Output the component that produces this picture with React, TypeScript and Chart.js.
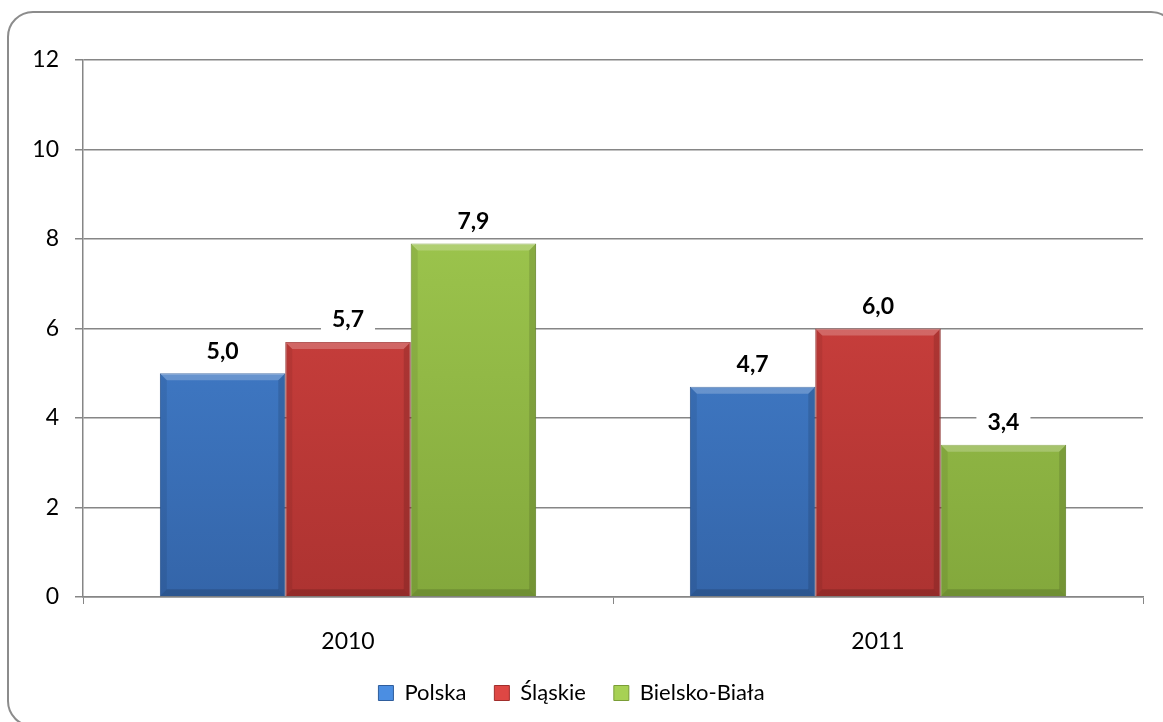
import React, { useEffect, useRef } from "react";
import { Chart, registerables } from "chart.js";

Chart.register(...registerables);

const categories = ["2010", "2011"];
const seriesNames = ["Polska", "Śląskie", "Bielsko-Biała"];
const polska = [5.0, 4.7];
const slaskie = [5.7, 6.0];
const bielsko = [7.9, 3.4];
const yTicks = [0, 2, 4, 6, 8, 10, 12];

const topColors = ["#4b8ee2", "#de4744", "#a7d154"];
const bottomColors = ["#3465a9", "#ad3331", "#83a83c"];
const borderColors = ["#2f5d9c", "#a02e2c", "#7a9d37"];
const FONT = "Lato, 'Open Sans', sans-serif";

const bevelPlugin = {
  id: "bevel",
  afterDatasetsDraw(chart: any) {
    const ctx = chart.ctx;
    ctx.save();
    chart.data.datasets.forEach((_ds: any, di: number) => {
      const meta = chart.getDatasetMeta(di);
      meta.data.forEach((bar: any) => {
        const left = bar.x - bar.width / 2;
        const right = bar.x + bar.width / 2;
        const top = bar.y;
        const bottom = bar.base;
        const b = 7;
        // top highlight
        ctx.fillStyle = "rgba(255,255,255,0.22)";
        ctx.beginPath();
        ctx.moveTo(left, top);
        ctx.lineTo(right, top);
        ctx.lineTo(right - b, top + b);
        ctx.lineTo(left + b, top + b);
        ctx.closePath();
        ctx.fill();
        // side shades
        ctx.fillStyle = "rgba(0,0,0,0.07)";
        ctx.beginPath();
        ctx.moveTo(left, top);
        ctx.lineTo(left + b, top + b);
        ctx.lineTo(left + b, bottom - b);
        ctx.lineTo(left, bottom);
        ctx.closePath();
        ctx.fill();
        ctx.fillStyle = "rgba(0,0,0,0.12)";
        ctx.beginPath();
        ctx.moveTo(right, top);
        ctx.lineTo(right - b, top + b);
        ctx.lineTo(right - b, bottom - b);
        ctx.lineTo(right, bottom);
        ctx.closePath();
        ctx.fill();
        ctx.fillStyle = "rgba(0,0,0,0.15)";
        ctx.beginPath();
        ctx.moveTo(left, bottom);
        ctx.lineTo(right, bottom);
        ctx.lineTo(right - b, bottom - b);
        ctx.lineTo(left + b, bottom - b);
        ctx.closePath();
        ctx.fill();
      });
    });
    ctx.restore();
  },
};

const labelPlugin = {
  id: "valueLabels",
  afterDatasetsDraw(chart: any) {
    const ctx = chart.ctx;
    ctx.save();
    ctx.font = `bold 23px ${FONT}`;
    ctx.textAlign = "center";
    ctx.textBaseline = "middle";
    chart.data.datasets.forEach((ds: any, di: number) => {
      const meta = chart.getDatasetMeta(di);
      meta.data.forEach((bar: any, i: number) => {
        const txt = Number(ds.data[i]).toFixed(1).replace(".", ",");
        const y = bar.y - 22;
        const w = ctx.measureText(txt).width + 22;
        ctx.fillStyle = "#ffffff";
        ctx.fillRect(bar.x - w / 2, y - 13, w, 26);
        ctx.fillStyle = "#000000";
        ctx.fillText(txt, bar.x, y);
      });
    });
    ctx.restore();
  },
};

function makeGradient(ctx: any, area: any, i: number) {
  if (!area) return topColors[i];
  const g = ctx.createLinearGradient(0, area.top, 0, area.bottom);
  g.addColorStop(0, topColors[i]);
  g.addColorStop(1, bottomColors[i]);
  return g;
}

export default function App() {
  const ref = useRef<HTMLCanvasElement | null>(null);
  useEffect(() => {
    if (!ref.current) return;
    const values = [polska, slaskie, bielsko];
    const chart = new Chart(ref.current, {
      type: "bar",
      data: {
        labels: categories,
        datasets: seriesNames.map((name, i) => ({
          label: name,
          data: values[i],
          backgroundColor: (c: any) => makeGradient(c.chart.ctx, c.chart.chartArea, i),
          borderColor: borderColors[i],
          borderWidth: 1,
          categoryPercentage: 0.71,
          barPercentage: 1,
        })),
      },
      options: {
        responsive: false,
        animation: false,
        layout: { padding: { left: 0, right: 20, top: 60, bottom: 8 } },
        plugins: {
          tooltip: { enabled: false },
          legend: {
            position: "bottom",
            labels: {
              font: { family: FONT, size: 22 },
              color: "#000",
              boxWidth: 15,
              boxHeight: 15,
              padding: 28,
              generateLabels: (ch: any) =>
                ch.data.datasets.map((d: any, i: number) => ({
                  text: d.label,
                  fillStyle: topColors[i],
                  strokeStyle: borderColors[i],
                  lineWidth: 1,
                  datasetIndex: i,
                  fontColor: "#000",
                })),
            },
          },
        },
        scales: {
          x: {
            afterFit: (s: any) => { s.height = 57; },
            grid: { display: true, drawOnChartArea: false, drawTicks: true, tickLength: 7, color: "#868686", offset: true },
            border: { display: true, color: "#868686", width: 1.5 },
            ticks: { font: { family: FONT, size: 23 }, color: "#000", padding: 24 },
          },
          y: {
            min: 0,
            max: 12,
            afterFit: (s: any) => { s.width = 83; },
            afterBuildTicks: (s: any) => { s.ticks = yTicks.map((v) => ({ value: v })); },
            grid: { color: "#868686", lineWidth: 1.5, tickLength: 8 },
            border: { display: true, color: "#868686", width: 1.5 },
            ticks: { font: { family: FONT, size: 23 }, color: "#000", padding: 16 },
          },
        },
      },
      plugins: [bevelPlugin, labelPlugin],
    } as any);
    return () => chart.destroy();
  }, []);

  return (
    <div style={{ position: "fixed", left: 0, top: 0, width: 1163, height: 722, overflow: "hidden", background: "#fff" }}>
      <div
        style={{
          position: "absolute",
          left: 7,
          top: 11,
          width: 1170,
          height: 716,
          border: "2px solid #8c8c8c",
          borderRadius: 26,
          boxSizing: "border-box",
        }}
      />
      <canvas ref={ref} width={1163} height={722} style={{ position: "absolute", left: 0, top: 0 }} />
    </div>
  );
}
